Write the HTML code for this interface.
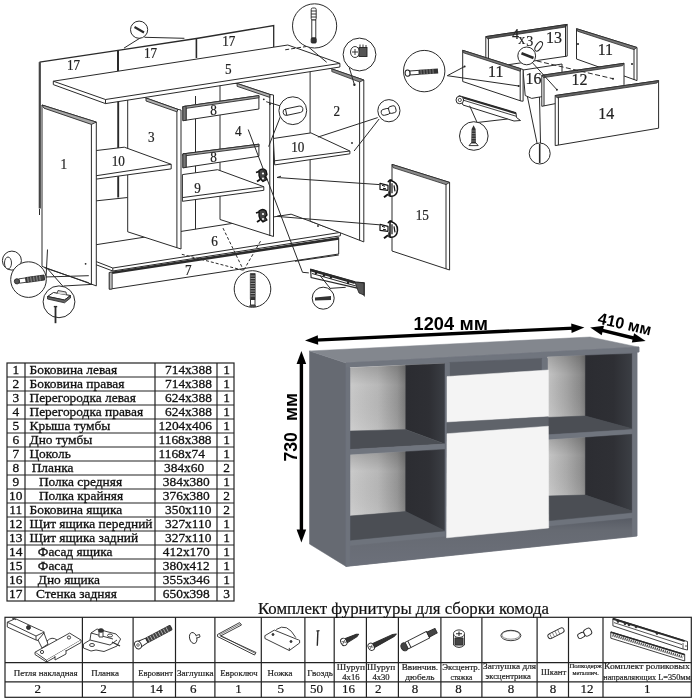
<!DOCTYPE html>
<html><head><meta charset="utf-8"><style>
html,body{margin:0;padding:0;background:#fff;width:694px;height:700px;overflow:hidden;}
svg{display:block;will-change:transform;}
</style></head><body>
<svg width="694" height="700" viewBox="0 0 694 700">
<rect width="694" height="700" fill="#fff"/>
<path d="M39.5,62.1 L118,50.3 L196.4,38.5 L273.7,25.5 L273.7,182 L39.5,207 Z" fill="#fff" stroke="none"/>
<path d="M39.5,62.1 L118.0,50.3 L196.4,38.5 L273.7,25.5 L273.7,47.0" fill="none" stroke="#2a2a2a" stroke-width="1.3"/>
<path d="M118.0,50.3 L118.0,71.0" fill="none" stroke="#2a2a2a" stroke-width="2"/>
<path d="M196.4,38.5 L196.4,58.0" fill="none" stroke="#2a2a2a" stroke-width="1.6"/>
<path d="M39.8,62.1 L39.8,208.5" fill="none" stroke="#444" stroke-width="2.2"/>
<path d="M118.2,101.0 L118.2,197.5" fill="none" stroke="#2a2a2a" stroke-width="1.9"/>
<path d="M195.5,96.0 L195.5,230.0" fill="none" stroke="#2a2a2a" stroke-width="1.0"/>
<path d="M95.7,200.9 L127.7,197.5" fill="none" stroke="#2a2a2a" stroke-width="1.0"/>
<path d="M95.5,244.8 L291.1,214.2 L340.4,232.4 L340.4,235.8 L112.8,271.0 L95.5,264.5 Z" fill="#fff" stroke="#2a2a2a" stroke-width="1.0"/>
<path d="M95.5,261.3 L112.8,268.0 L340.4,232.4" fill="none" stroke="#2a2a2a" stroke-width="1.0"/>
<path d="M112.8,268.0 L112.8,271.0" fill="none" stroke="#2a2a2a" stroke-width="1.0"/>
<path d="M109.3,272.5 L338.7,237.6 L338.7,254.0 L109.3,289.2 Z" fill="#fff" stroke="#2a2a2a" stroke-width="1.0"/>
<path d="M109.3,272.5 L112.2,272 L112.2,289 L109.3,289.2 Z" fill="#bbb" stroke="#2a2a2a" stroke-width="0.8"/>
<path d="M112.2,273.0 L338.7,238.6" fill="none" stroke="#2a2a2a" stroke-width="2.2"/>
<path d="M127.7,92.0 L146.0,98.0 L178.0,109.4 L181.0,110.0 L181.0,249.0 L127.7,231.8 Z" fill="#fff" stroke="#2a2a2a" stroke-width="1.0"/>
<path d="M176.9,109.4 L176.9,248.0" fill="none" stroke="#2a2a2a" stroke-width="1.0"/>
<path d="M146.0,98.0 L178.0,109.4 L176.9,111.8 L146.0,101.0 Z" fill="#b0b0b0" stroke="#2a2a2a" stroke-width="0.9"/>
<path d="M95.7,150.6 L124.3,147.2 L171.2,164.3 L171.2,168.9 L95.7,179.2 Z" fill="#fff" stroke="#2a2a2a" stroke-width="1.0"/>
<path d="M95.7,175.8 L171.2,164.3" fill="none" stroke="#2a2a2a" stroke-width="1.0"/>
<path d="M220.0,83.0 L237.1,83.5 L269.8,94.4 L273.5,95.0 L273.5,236.5 L220.0,219.5 Z" fill="#fff" stroke="#2a2a2a" stroke-width="1.0"/>
<path d="M269.8,94.4 L269.8,236.0" fill="none" stroke="#2a2a2a" stroke-width="1.0"/>
<path d="M237.1,83.5 L269.8,94.4 L269.8,97.4 L237.1,86.3 Z" fill="#b0b0b0" stroke="#2a2a2a" stroke-width="0.9"/>
<g transform="translate(262,175.5)" stroke="#111" stroke-width="1.3" fill="#444" stroke-linejoin="round"><path d="M-3,-5 Q1,-8 4,-5 L5,-1 L3,1 L5,4 L1,6 L-2,3 L-3,0 Z"/><path d="M-3,-4 L-6,-3" fill="none" stroke-width="1.8"/><path d="M-2,4 L-5,6" fill="none" stroke-width="1.8"/><circle cx="1" cy="-2" r="1.1" fill="#fff" stroke="none"/><circle cx="1" cy="3" r="1" fill="#fff" stroke="none"/></g>
<g transform="translate(262,216)" stroke="#111" stroke-width="1.3" fill="#444" stroke-linejoin="round"><path d="M-3,-5 Q1,-8 4,-5 L5,-1 L3,1 L5,4 L1,6 L-2,3 L-3,0 Z"/><path d="M-3,-4 L-6,-3" fill="none" stroke-width="1.8"/><path d="M-2,4 L-5,6" fill="none" stroke-width="1.8"/><circle cx="1" cy="-2" r="1.1" fill="#fff" stroke="none"/><circle cx="1" cy="3" r="1" fill="#fff" stroke="none"/></g>
<path d="M182.9,106.6 L258.9,95.6 L258.9,109.0 L182.9,120.7 Z" fill="#fff" stroke="#2a2a2a" stroke-width="1.0"/>
<path d="M186.1,106.2 L186.1,120.3" fill="none" stroke="#2a2a2a" stroke-width="1.0"/>
<path d="M182.9,106.6 L258.9,95.6 L258.9,97.8 L182.9,108.8 Z" fill="#a0a0a0" stroke="#2a2a2a" stroke-width="0.9"/>
<path d="M182.9,106.6 L186.1,106.2 L186.1,120.3 L182.9,120.7 Z" fill="#777" stroke="#2a2a2a" stroke-width="0.8"/>
<path d="M182.9,153.9 L258.9,144.2 L258.9,156.3 L182.9,167.8 Z" fill="#fff" stroke="#2a2a2a" stroke-width="1.0"/>
<path d="M186.1,153.5 L186.1,167.4" fill="none" stroke="#2a2a2a" stroke-width="1.0"/>
<path d="M182.9,153.9 L258.9,144.2 L258.9,146.4 L182.9,156.1 Z" fill="#a0a0a0" stroke="#2a2a2a" stroke-width="0.9"/>
<path d="M182.9,153.9 L186.1,153.5 L186.1,167.4 L182.9,167.8 Z" fill="#777" stroke="#2a2a2a" stroke-width="0.8"/>
<path d="M182.4,174.6 L217.6,169.7 L263.8,186.7 L263.8,190.3 L182.4,201.3 Z" fill="#fff" stroke="#2a2a2a" stroke-width="1.0"/>
<path d="M182.4,197.6 L263.8,186.7" fill="none" stroke="#2a2a2a" stroke-width="1.0"/>
<path d="M42.0,105.0 L96.3,122.1 L96.3,285.9 L42.0,266.4 Z" fill="#fff" stroke="#2a2a2a" stroke-width="1.0"/>
<path d="M91.4,122.0 L91.4,284.3" fill="none" stroke="#2a2a2a" stroke-width="1.0"/>
<path d="M42.0,105.0 L96.3,122.1 L91.4,124.4 L44.0,108.2 Z" fill="#a8a8a8" stroke="#2a2a2a" stroke-width="0.9"/>
<path d="M310.1,61.4 L363.8,80.0 L363.8,241.9 L310.1,221.1 Z" fill="#fff" stroke="#2a2a2a" stroke-width="1.0"/>
<path d="M359.6,78.6 L359.6,240.3" fill="none" stroke="#2a2a2a" stroke-width="1.0"/>
<path d="M331.8,68.9 L363.8,80.0 L359.6,82.0 L331.8,71.6 Z" fill="#8a8a8a" stroke="#2a2a2a" stroke-width="0.8"/>
<path d="M273.3,138.5 L310.9,132.9 L349.9,151.0 L349.9,153.8 L274.7,164.9 Z" fill="#fff" stroke="#2a2a2a" stroke-width="1.0"/>
<path d="M274.7,160.8 L349.9,151.0" fill="none" stroke="#2a2a2a" stroke-width="1.0"/>
<path d="M53.3,81.2 L287.8,45.0 L339.9,63.4 L339.9,67.0 L105.5,103.6 L53.3,84.6 Z" fill="#fff" stroke="#2a2a2a" stroke-width="1.0"/>
<path d="M53.3,81.2 L105.5,99.5 L339.9,63.4" fill="none" stroke="#2a2a2a" stroke-width="1.0"/>
<path d="M105.5,99.5 L105.5,103.6" fill="none" stroke="#2a2a2a" stroke-width="1.0"/>
<path d="M392.0,164.4 L449.6,182.4 L449.6,270.0 L392.0,251.0 Z" fill="#fff" stroke="#2a2a2a" stroke-width="1.0"/>
<path d="M446.0,181.5 L446.0,269.0" fill="none" stroke="#2a2a2a" stroke-width="1.0"/>
<path d="M392.0,164.4 L449.6,182.4 L446.0,184.6 L393.0,167.6 Z" fill="#8a8a8a" stroke="#2a2a2a" stroke-width="0.8"/>
<g transform="translate(389,188.3)" stroke="#111" stroke-width="1.2" fill="#fff" stroke-linejoin="round"><path d="M-9,-5 L-1,-3 L-1,2 L-9,1 Z"/><path d="M-7,-3 L-4,-2 M-6,0 L-3,0.5" stroke-width="1"/><path d="M1,-8 Q9,-6 8.5,1 Q8,8 2,8 L1,8 Z" fill="#fff" stroke-width="1.5"/><path d="M3,-5 L3,5 M5,-3 L6,3" fill="none" stroke-width="1.2"/><path d="M-1,-6 Q0,-9 3,-8" fill="none" stroke-width="1.5"/><path d="M0,3 L0,8" fill="none" stroke-width="1.5"/><path d="M-1,6 L-5,9" fill="none" stroke-width="2"/></g>
<g transform="translate(389,229.3)" stroke="#111" stroke-width="1.2" fill="#fff" stroke-linejoin="round"><path d="M-9,-5 L-1,-3 L-1,2 L-9,1 Z"/><path d="M-7,-3 L-4,-2 M-6,0 L-3,0.5" stroke-width="1"/><path d="M1,-8 Q9,-6 8.5,1 Q8,8 2,8 L1,8 Z" fill="#fff" stroke-width="1.5"/><path d="M3,-5 L3,5 M5,-3 L6,3" fill="none" stroke-width="1.2"/><path d="M-1,-6 Q0,-9 3,-8" fill="none" stroke-width="1.5"/><path d="M0,3 L0,8" fill="none" stroke-width="1.5"/><path d="M-1,6 L-5,9" fill="none" stroke-width="2"/></g>
<path d="M379.5,184.6 L277.0,177.5" fill="none" stroke="#2a2a2a" stroke-width="1.0"/>
<path d="M379.5,224.8 L277.0,216.4" fill="none" stroke="#2a2a2a" stroke-width="1.0"/>
<path d="M277.0,177.5 L281.0,176.2" fill="none" stroke="#2a2a2a" stroke-width="1.0"/>
<path d="M277.0,216.4 L281.0,215.1" fill="none" stroke="#2a2a2a" stroke-width="1.0"/>
<g font-family="Liberation Serif" fill="#222" stroke="#222" stroke-width="0.2">
<text transform="translate(73.5,69.7) scale(1,1.1)" font-size="13.2" text-anchor="middle" >17</text>
<text transform="translate(150.5,57.8) scale(1,1.1)" font-size="13.2" text-anchor="middle" >17</text>
<text transform="translate(228.8,45.8) scale(1,1.1)" font-size="13.2" text-anchor="middle" >17</text>
<text transform="translate(228.4,73.5) scale(1,1.1)" font-size="13.2" text-anchor="middle" >5</text>
<text transform="translate(63.7,168.7) scale(1,1.1)" font-size="13.2" text-anchor="middle" >1</text>
<text transform="translate(151.3,142.1) scale(1,1.1)" font-size="13.2" text-anchor="middle" >3</text>
<text transform="translate(118.3,165.9) scale(1,1.1)" font-size="13.2" text-anchor="middle" >10</text>
<text transform="translate(213.5,114.6) scale(1,1.1)" font-size="13.2" text-anchor="middle" >8</text>
<text transform="translate(213.5,161.9) scale(1,1.1)" font-size="13.2" text-anchor="middle" >8</text>
<text transform="translate(197.5,192.8) scale(1,1.1)" font-size="13.2" text-anchor="middle" >9</text>
<text transform="translate(238.3,136.2) scale(1,1.1)" font-size="13.2" text-anchor="middle" >4</text>
<text transform="translate(336.8,116.2) scale(1,1.1)" font-size="13.2" text-anchor="middle" >2</text>
<text transform="translate(297.8,151.9) scale(1,1.1)" font-size="13.2" text-anchor="middle" >10</text>
<text transform="translate(214.5,245.5) scale(1,1.1)" font-size="13.2" text-anchor="middle" >6</text>
<text transform="translate(188.2,274.9) scale(1,1.1)" font-size="13.2" text-anchor="middle" >7</text>
<text transform="translate(422.3,220.4) scale(1,1.1)" font-size="13.2" text-anchor="middle" >15</text>
</g>
<path d="M248.2,129.5 L302.5,272.3 L308.8,272.9" fill="none" stroke="#2a2a2a" stroke-width="1.0"/>
<path d="M223.0,228.1 L243.6,270.4" fill="none" stroke="#2a2a2a" stroke-width="1.0" stroke-dasharray="3,2"/>
<path d="M260.5,241.2 L243.6,270.4" fill="none" stroke="#2a2a2a" stroke-width="1.0" stroke-dasharray="3,2"/>
<path d="M181.8,254.3 L243.6,270.4" fill="none" stroke="#2a2a2a" stroke-width="1.0" stroke-dasharray="3,2"/>
<path d="M141.3,37.3 L124.0,48.1" fill="none" stroke="#2a2a2a" stroke-width="1.0"/>
<path d="M144.5,37.3 L184.4,38.3" fill="none" stroke="#2a2a2a" stroke-width="1.0"/>
<circle cx="139.1" cy="29.7" r="8.6" fill="#fff" stroke="#2a2a2a" stroke-width="1.0"/>
<path d="M134.5,27.0 L144.0,32.5" fill="none" stroke="#2a2a2a" stroke-width="2.2"/>
<path d="M285.2,49.8 L307.7,46.3" fill="none" stroke="#2a2a2a" stroke-width="1.0" stroke-dasharray="4,2"/>
<path d="M308.5,47.0 L326.7,62.3" fill="none" stroke="#2a2a2a" stroke-width="1.0"/>
<circle cx="314.6" cy="25.9" r="22.1" fill="#fff" stroke="#2a2a2a" stroke-width="1.0"/>
<g stroke="#222" stroke-width="0.9" fill="#fff"><rect x="311.2" y="8" width="5" height="12" rx="1.5"/><line x1="311.2" y1="11" x2="316.2" y2="11"/><line x1="311.2" y1="14" x2="316.2" y2="14"/><line x1="311.2" y1="17" x2="316.2" y2="17"/><rect x="311.8" y="20" width="4" height="18"/><rect x="311.2" y="38" width="5" height="5" rx="1" fill="#333"/></g>
<path d="M349.2,67.4 L354.4,84.7" fill="none" stroke="#2a2a2a" stroke-width="1.0"/>
<circle cx="354.4" cy="84.7" r="1.2" fill="#222"/>
<circle cx="359.5" cy="54.5" r="16.4" fill="#fff" stroke="#2a2a2a" stroke-width="1.0"/>
<g stroke="#222" stroke-width="0.9"><ellipse cx="355" cy="52" rx="4.5" ry="5.5" fill="#fff"/><path d="M352,52 L358,52 M355,49 L355,55" /><rect x="359" y="47.5" width="8" height="9" fill="#555"/><path d="M360,47.5 L360,44.5 M363,47.5 L363,44.5 M366,47.5 L366,45" /></g>
<path d="M280.5,106.0 L266.2,101.7" fill="none" stroke="#2a2a2a" stroke-width="1.0"/>
<path d="M281.0,115.0 L268.6,146.6" fill="none" stroke="#2a2a2a" stroke-width="1.0"/>
<circle cx="292.8" cy="110.7" r="13.9" fill="#fff" stroke="#2a2a2a" stroke-width="1.0"/>
<g transform="rotate(-12 292.8 110.7)" stroke="#222" stroke-width="0.9" fill="#fff"><rect x="283" y="107.5" width="20" height="6.5" rx="3"/><line x1="286" y1="107.5" x2="286" y2="114"/></g>
<path d="M377.7,117.6 L317.9,137.1" fill="none" stroke="#2a2a2a" stroke-width="1.0"/>
<path d="M379.1,119.0 L354.1,151.0" fill="none" stroke="#2a2a2a" stroke-width="1.0"/>
<circle cx="388.9" cy="110.7" r="11.1" fill="#fff" stroke="#2a2a2a" stroke-width="1.0"/>
<g transform="rotate(-15 388.9 110.7)" stroke="#222" stroke-width="0.9" fill="#fff"><rect x="381" y="108" width="9" height="6" rx="2.5"/><rect x="389" y="107" width="7" height="7" rx="2"/></g>
<circle cx="252.5" cy="289" r="18.3" fill="#fff" stroke="#2a2a2a" stroke-width="1.0"/>
<path d="M250.3,273.5 L255.2,273.5 L255.2,299.5 L250.3,299.5 Z" fill="#333" stroke="#222" stroke-width="0.6"/>
<path d="M250.5,276 L255,276 M250.5,278.5 L255,278.5 M250.5,281 L255,281 M250.5,283.5 L255,283.5 M250.5,286 L255,286 M250.5,288.5 L255,288.5 M250.5,291 L255,291 M250.5,293.5 L255,293.5 M250.5,296 L255,296" stroke="#bbb" stroke-width="0.7"/>
<path d="M250.5,299.5 L255,299.5 L255,305 L250.5,305 Z" fill="#fff" stroke="#222" stroke-width="0.9"/>
<path d="M249.5,306.0 L256.0,306.0" fill="none" stroke="#2a2a2a" stroke-width="1.6"/>
<path d="M310.6,269.4 L354.9,282.1 L364.2,282.7 L364.2,295.3 L358.4,288.4 L311.1,277.5 Z" fill="#fff" stroke="#2a2a2a" stroke-width="1.2"/>
<path d="M310.6,270.0 L354.9,282.7" fill="none" stroke="#2a2a2a" stroke-width="2.8"/>
<path d="M312.0,273.5 L356.0,286.0" fill="none" stroke="#2a2a2a" stroke-width="1.0"/>
<path d="M355,282 L364,283 L364,295 L359,293 L357,288 Z" fill="#555" stroke="#222" stroke-width="0.8"/>
<circle cx="316" cy="273" r="1.2" fill="#222"/><circle cx="324" cy="275.5" r="1.2" fill="#222"/><circle cx="331" cy="277.5" r="1.2" fill="#222"/><circle cx="348" cy="283" r="1.2" fill="#222"/>
<path d="M319.8,275.2 L330.2,288.4" fill="none" stroke="#2a2a2a" stroke-width="1.0"/>
<path d="M329.6,288.4 L345.7,287.3" fill="none" stroke="#2a2a2a" stroke-width="1.0"/>
<circle cx="323.2" cy="298.2" r="11" fill="#fff" stroke="#2a2a2a" stroke-width="1.0"/>
<path d="M315,297.5 L331,296 L331,300 L315,300.5 Z" fill="#333"/>
<path d="M295.0,261.3 L338.8,255.0" fill="none" stroke="#2a2a2a" stroke-width="1.0"/>
<path d="M44.4,267.7 L88.8,282.8" fill="none" stroke="#2a2a2a" stroke-width="1.0"/>
<path d="M44.4,277.0 L88.8,275.7" fill="none" stroke="#2a2a2a" stroke-width="1.0"/>
<path d="M46.0,267.0 L63.4,286.8" fill="none" stroke="#2a2a2a" stroke-width="1.0"/>
<path d="M47.5,249.5 L46.0,278.0" fill="none" stroke="#2a2a2a" stroke-width="1.0"/>
<path d="M63.4,286.0 L91.9,284.4" fill="none" stroke="#2a2a2a" stroke-width="1.0"/>
<circle cx="11.9" cy="260.6" r="9.5" fill="#fff" stroke="#2a2a2a" stroke-width="1.0"/>
<ellipse cx="8" cy="263" rx="3.5" ry="6" fill="#fff" stroke="#222" stroke-width="0.9"/>
<circle cx="28.5" cy="279.6" r="17.8" fill="#fff" stroke="#2a2a2a" stroke-width="1.0"/>
<g transform="rotate(-8 30 279.5)" stroke="#222" stroke-width="0.8"><rect x="19" y="277.3" width="7" height="4.4" fill="#fff"/><rect x="26" y="277" width="18.5" height="5" fill="#444"/><path d="M28,277 L28,282 M31,277 L31,282 M34,277 L34,282 M37,277 L37,282 M40,277 L40,282" stroke="#bbb" stroke-width="0.6"/><circle cx="16.8" cy="279.5" r="2.6" fill="#555"/></g>
<circle cx="59" cy="301.8" r="15.9" fill="#fff" stroke="#2a2a2a" stroke-width="1.0"/>
<path d="M47.5,296.5 L53.5,292.5 L70.5,295.5 L64.5,300 Z" fill="#fff" stroke="#222" stroke-width="1"/>
<path d="M47.5,296.5 L47.5,299 L64.5,302.8 L70.5,298 L70.5,295.5 L64.5,300 Z" fill="#666" stroke="#222" stroke-width="0.8"/>
<path d="M57,293.5 L58,290.5 L66,292 L66.5,294.8" fill="#ddd" stroke="#222" stroke-width="0.8"/>
<path d="M55.5,306.6 L55.5,323.2" fill="none" stroke="#2a2a2a" stroke-width="1.8"/>
<path d="M53.8,306.6 L57.2,306.6" fill="none" stroke="#2a2a2a" stroke-width="1.4"/>
<path d="M39.5,209.0 L39.5,215.0" fill="none" stroke="#2a2a2a" stroke-width="1.0"/>
<circle cx="85.6" cy="263.8" r="0.9" fill="#222"/>
<circle cx="352" cy="143" r="0.9" fill="#222"/>
<circle cx="318" cy="226" r="0.9" fill="#222"/>
<circle cx="263.8" cy="99.3" r="0.9" fill="#222"/>
<circle cx="270" cy="104" r="0.9" fill="#222"/>
<path d="M485.8,36.6 L567.2,24.4 L567.2,56.1 L485.8,68.0 Z" fill="#fff" stroke="#2a2a2a" stroke-width="1.0"/>
<path d="M488.4,36.2 L488.4,60.0" fill="none" stroke="#2a2a2a" stroke-width="1.0"/>
<path d="M485.8,36.6 L567.2,24.4 L565.5,27.0 L487.5,38.8 Z" fill="#555" stroke="#2a2a2a" stroke-width="0.8"/>
<path d="M565.5,25.0 L565.5,56.5" fill="none" stroke="#2a2a2a" stroke-width="1.0"/>
<path d="M576.5,28.7 L637.0,47.5 L637.0,80.6 L576.5,59.0 Z" fill="#fff" stroke="#2a2a2a" stroke-width="1.0"/>
<path d="M634.0,46.8 L634.0,80.0" fill="none" stroke="#2a2a2a" stroke-width="1.0"/>
<path d="M576.5,28.7 L637.0,47.5 L634.0,49.6 L577.5,31.2 Z" fill="#777" stroke="#2a2a2a" stroke-width="0.8"/>
<circle cx="578" cy="44" r="1" fill="#222"/><circle cx="632" cy="64" r="1" fill="#222"/>
<path d="M523.0,70.0 L562.0,64.0 L562.0,94.0 L540.3,96.9 L531.7,98.4 L525.2,95.5 Z" fill="#fff" stroke="#2a2a2a" stroke-width="1.0"/>
<path d="M541.8,75.3 L624.0,63.3 L624.0,90.0 L541.8,106.3 Z" fill="#fff" stroke="#2a2a2a" stroke-width="1.0"/>
<path d="M544.0,75.5 L544.0,106.0" fill="none" stroke="#2a2a2a" stroke-width="1.0"/>
<path d="M541.8,75.3 L624.0,63.3 L622.5,65.7 L543.5,77.6 Z" fill="#666" stroke="#2a2a2a" stroke-width="0.8"/>
<path d="M462.7,50.3 L521.0,68.8 L523.1,69.5 L523.1,101.2 L521.0,101.0 L462.7,81.5 Z" fill="#fff" stroke="#2a2a2a" stroke-width="1.0"/>
<path d="M520.2,69.0 L520.2,101.0" fill="none" stroke="#2a2a2a" stroke-width="1.0"/>
<path d="M462.7,50.3 L521.0,68.8 L520.2,71.2 L463.5,52.8 Z" fill="#777" stroke="#2a2a2a" stroke-width="0.8"/>
<path d="M555.2,95.5 L658.6,80.6 L658.6,128.2 L555.2,145.6 Z" fill="#fff" stroke="#2a2a2a" stroke-width="1.0"/>
<path d="M558.4,95.2 L558.4,145.0" fill="none" stroke="#2a2a2a" stroke-width="1.0"/>
<path d="M555.2,95.5 L658.6,80.6 L657.0,83.0 L557.0,97.8 Z" fill="#666" stroke="#2a2a2a" stroke-width="0.8"/>
<path d="M536.7,60.9 L613.0,78.7" fill="none" stroke="#2a2a2a" stroke-width="1.0" stroke-dasharray="5,2.5"/>
<circle cx="613" cy="78.7" r="1" fill="#222"/>
<path d="M530.0,60.0 L556.9,89.7" fill="none" stroke="#2a2a2a" stroke-width="1.0"/>
<circle cx="556.9" cy="89.7" r="1" fill="#222"/>
<circle cx="526.7" cy="55.9" r="8.9" fill="#fff" stroke="#2a2a2a" stroke-width="1.0"/>
<path d="M521.5,53.2 L533.5,58.0" fill="none" stroke="#2a2a2a" stroke-width="2.6"/>
<path d="M447.3,75.7 L464.6,66.5" fill="none" stroke="#2a2a2a" stroke-width="1.0"/>
<path d="M447.3,75.7 L518.7,86.0" fill="none" stroke="#2a2a2a" stroke-width="1.0"/>
<circle cx="464.6" cy="66.5" r="1" fill="#222"/><circle cx="518.7" cy="86" r="1" fill="#222"/>
<circle cx="424.2" cy="71.1" r="20.7" fill="#fff" stroke="#2a2a2a" stroke-width="1.0"/>
<g transform="rotate(-4 424 71)"><ellipse cx="407.5" cy="72" rx="2.5" ry="3.2" fill="#fff" stroke="#222" stroke-width="1"/><rect x="410" y="70" width="9" height="4" fill="#fff" stroke="#222" stroke-width="0.9"/><rect x="419" y="69.5" width="19" height="5" fill="#333"/><path d="M421,69.5 L421,74.5 M424,69.5 L424,74.5 M427,69.5 L427,74.5 M430,69.5 L430,74.5 M433,69.5 L433,74.5" stroke="#aaa" stroke-width="0.6"/></g>
<path d="M458.5,96.0 L516.0,113.0 L516.5,117.5 L520.5,120.5 L514.0,121.0 L463.0,105.0 Z" fill="#fff" stroke="#2a2a2a" stroke-width="1.0"/>
<path d="M459.0,96.2 L516.0,113.2" fill="none" stroke="#2a2a2a" stroke-width="2.2"/>
<path d="M462.0,99.8 L516.0,116.2" fill="none" stroke="#2a2a2a" stroke-width="0.9"/>
<circle cx="459.8" cy="100" r="3.8" fill="#fff" stroke="#2a2a2a" stroke-width="1.0"/>
<circle cx="459.8" cy="100" r="1.6" fill="#fff" stroke="#2a2a2a" stroke-width="0.8"/>
<path d="M469.6,105.7 L477.1,122.5" fill="none" stroke="#2a2a2a" stroke-width="1.0"/>
<path d="M477.1,122.5 L507.6,119.0" fill="none" stroke="#2a2a2a" stroke-width="1.0"/>
<circle cx="473.8" cy="136" r="14.3" fill="#fff" stroke="#2a2a2a" stroke-width="1.0"/>
<path d="M471.2,143 L476,143 L475.6,129 L473.6,125.3 L471.6,129 Z" fill="#333"/>
<path d="M471.5,131 L475.7,131 M471.4,133.5 L475.8,133.5 M471.3,136 L475.8,136 M471.3,138.5 L475.9,138.5 M471.2,141 L476,141" stroke="#aaa" stroke-width="0.6"/>
<path d="M469,145.6 L478.2,145.6 L476,143 L471.2,143 Z" fill="#fff" stroke="#222" stroke-width="0.9"/>
<path d="M537.0,143.0 L527.5,97.0" fill="none" stroke="#2a2a2a" stroke-width="1.0"/>
<path d="M540.5,143.0 L539.5,97.0" fill="none" stroke="#2a2a2a" stroke-width="1.0"/>
<circle cx="539.7" cy="153.5" r="10.5" fill="#fff" stroke="#2a2a2a" stroke-width="1.0"/>
<path d="M539.7,144.0 L539.7,163.0" fill="none" stroke="#2a2a2a" stroke-width="1.6"/>
<g font-family="Liberation Serif" fill="#222" stroke="#222" stroke-width="0.2">
<text transform="translate(553.9,43.0) scale(1,1.1)" font-size="16" text-anchor="middle" >13</text>
<text transform="translate(605.4,55.300000000000004) scale(1,1.1)" font-size="16" text-anchor="middle" >11</text>
<text transform="translate(495.7,77.2) scale(1,1.1)" font-size="16" text-anchor="middle" >11</text>
<text transform="translate(533.5,83.9) scale(1,1.1)" font-size="16" text-anchor="middle" >16</text>
<text transform="translate(579.6,85.3) scale(1,1.1)" font-size="16" text-anchor="middle" >12</text>
<text transform="translate(606.3,118.8) scale(1,1.1)" font-size="16" text-anchor="middle" >14</text>
<text font-size="14"><tspan x="512" y="38.7">4</tspan><tspan x="518.3" y="43.8">x</tspan><tspan x="526.2" y="46.4">3</tspan></text>
<ellipse cx="538.7" cy="46.4" rx="2.6" ry="5.4" transform="rotate(35 538.7 46.4)" fill="none" stroke="#222" stroke-width="1"/>
</g>
<polygon points="309.5,351 346,363 346,566.4 309.5,544" fill="#666a72" stroke="#666a72" stroke-width="0.5" stroke-linejoin="round" />
<polygon points="309.5,351 590,337 639,347.2 346,363" fill="#83878e" stroke="#83878e" stroke-width="0.5" stroke-linejoin="round" />
<polygon points="346,363 639,347.2 639,352 637,352 637,536 346,566.4" fill="#6e737c" stroke="#6e737c" stroke-width="0.5" stroke-linejoin="round" />
<polygon points="346,363 639,347.2 639,352 346,368" fill="#70757e" stroke="#70757e" stroke-width="0.5" stroke-linejoin="round" />
<polygon points="350,367.8 445,363.5 445,444 350,449.5" fill="#dedede" stroke="#dedede" stroke-width="0.5" stroke-linejoin="round" />
<defs><linearGradient id="bw1" x1="0" x2="1" y1="0" y2="0"><stop offset="0" stop-color="#cacaca"/><stop offset="0.5" stop-color="#b8b8b8"/><stop offset="0.85" stop-color="#969696"/><stop offset="1" stop-color="#787878"/></linearGradient><linearGradient id="bw2" x1="0" x2="1" y1="0" y2="0"><stop offset="0" stop-color="#cacaca"/><stop offset="0.5" stop-color="#b8b8b8"/><stop offset="0.85" stop-color="#969696"/><stop offset="1" stop-color="#787878"/></linearGradient><linearGradient id="bw3" x1="0" x2="1" y1="0" y2="0"><stop offset="0" stop-color="#c4c4c4"/><stop offset="0.5" stop-color="#a6a6a6"/><stop offset="0.85" stop-color="#8c8c8c"/><stop offset="1" stop-color="#767676"/></linearGradient><linearGradient id="bw4" x1="0" x2="1" y1="0" y2="0"><stop offset="0" stop-color="#c6c6c6"/><stop offset="0.5" stop-color="#acacac"/><stop offset="0.85" stop-color="#949494"/><stop offset="1" stop-color="#828282"/></linearGradient><linearGradient id="vsh" x1="0" x2="0" y1="0" y2="1"><stop offset="0" stop-color="#000" stop-opacity="0.16"/><stop offset="0.3" stop-color="#000" stop-opacity="0"/><stop offset="1" stop-color="#fff" stop-opacity="0.09"/></linearGradient><linearGradient id="dk" x1="0" x2="1" y1="0" y2="0"><stop offset="0" stop-color="#2b2c31"/><stop offset="0.6" stop-color="#2e2f34"/><stop offset="1" stop-color="#3b3e44"/></linearGradient><linearGradient id="dk2" x1="0" x2="1" y1="0" y2="0"><stop offset="0" stop-color="#2c2d32"/><stop offset="0.6" stop-color="#2f3035"/><stop offset="1" stop-color="#3c3f45"/></linearGradient><linearGradient id="pl" x1="0" x2="0" y1="0" y2="1"><stop offset="0" stop-color="#585c65"/><stop offset="0.25" stop-color="#666a72"/><stop offset="1" stop-color="#6c707a"/></linearGradient></defs>
<polygon points="350,367.8 405.7,365.3 405.7,429.5 350,431" fill="url(#bw1)" stroke="url(#bw1)" stroke-width="0.5" stroke-linejoin="round" />
<polygon points="350,367.8 405.7,365.3 405.7,429.5 350,431" fill="url(#vsh)"/>
<polygon points="405.7,365.3 445,363.5 445,444 405.7,429.5" fill="url(#dk)" stroke="url(#dk)" stroke-width="0.5" stroke-linejoin="round" />
<polygon points="350,431 405.7,429.5 445,444 350,449.5" fill="#4b4e54" stroke="#4b4e54" stroke-width="0.5" stroke-linejoin="round" />
<polygon points="350,449.5 445,444 445,449.4 350,455" fill="#70757e" stroke="#70757e" stroke-width="0.5" stroke-linejoin="round" />
<polygon points="350,455 405.7,451.8 405.7,511.6 350,516" fill="url(#bw2)" stroke="url(#bw2)" stroke-width="0.5" stroke-linejoin="round" />
<polygon points="350,455 405.7,451.8 405.7,511.6 350,516" fill="url(#vsh)"/>
<polygon points="405.7,451.8 445,449.4 445,530.8900000000001 405.7,511.6" fill="url(#dk2)" stroke="url(#dk2)" stroke-width="0.5" stroke-linejoin="round" />
<polygon points="350,516 405.7,511.6 445,530.8900000000001 350,540.2" fill="#4b4e54" stroke="#4b4e54" stroke-width="0.5" stroke-linejoin="round" />
<polygon points="547.5,357 585.4,355.5 585.4,416 547.5,417.4" fill="url(#bw3)" stroke="url(#bw3)" stroke-width="0.5" stroke-linejoin="round" />
<polygon points="547.5,357 585.4,355.5 585.4,416 547.5,417.4" fill="url(#vsh)"/>
<polygon points="585.4,355.5 632.3,353.8 632.3,428.7 585.4,416" fill="url(#dk)" stroke="url(#dk)" stroke-width="0.5" stroke-linejoin="round" />
<polygon points="547.5,417.4 585.4,416 632.3,428.7 632.3,429.5 547.5,434.8" fill="#4b4e54" stroke="#4b4e54" stroke-width="0.5" stroke-linejoin="round" />
<polygon points="547.5,434.8 632.3,429.5 632.3,434.3 547.5,440" fill="#70757e" stroke="#70757e" stroke-width="0.5" stroke-linejoin="round" />
<polygon points="547.5,440 585.4,437.6 585.4,495 547.5,496" fill="url(#bw4)" stroke="url(#bw4)" stroke-width="0.5" stroke-linejoin="round" />
<polygon points="547.5,440 585.4,437.6 585.4,495 547.5,496" fill="url(#vsh)"/>
<polygon points="585.4,437.6 632.3,434.3 632.3,511 585.4,495" fill="url(#dk2)" stroke="url(#dk2)" stroke-width="0.5" stroke-linejoin="round" />
<polygon points="547.5,496 585.4,495 632.3,511 632.3,512.5346000000001 547.5,520.845" fill="#4b4e54" stroke="#4b4e54" stroke-width="0.5" stroke-linejoin="round" />
<polygon points="350,546.0 632.3,518.3346 632.3,536.6247999999999 350,565.9839999999999" fill="url(#pl)" stroke="url(#pl)" stroke-width="0.5" stroke-linejoin="round" />
<polygon points="346,368 350,367.8 350,565.9839999999999 346,566.4" fill="#6e737c" stroke="#6e737c" stroke-width="0.5" stroke-linejoin="round" />
<polygon points="632.3,353.8 637,352 637,536 632.3,536.6247999999999" fill="#6e737c" stroke="#6e737c" stroke-width="0.5" stroke-linejoin="round" />
<polygon points="449.7,362.5 542,358.5 542,372 449.7,377" fill="#5a5e66" stroke="#5a5e66" stroke-width="0.5" stroke-linejoin="round" />
<polygon points="449.7,376 542,371 542,420 449.7,425" fill="#50545b" stroke="#50545b" stroke-width="0.5" stroke-linejoin="round" />
<polygon points="445,363.5 449.7,362.8 449.7,536.2294 445,536.69" fill="#6e737c" stroke="#6e737c" stroke-width="0.5" stroke-linejoin="round" />
<polygon points="542,358.8 547.5,358.5 547.5,526.645 542,527.184" fill="#6e737c" stroke="#6e737c" stroke-width="0.5" stroke-linejoin="round" />
<polygon points="447,376.5 548.4,370 548.4,416.8 447,422.4" fill="#f4f4f4" stroke="#f4f4f4" stroke-width="0.5" stroke-linejoin="round" />
<polygon points="447,422.4 548.4,416.8 548.4,426.2 447,433.7" fill="#5f636a" stroke="#5f636a" stroke-width="0.5" stroke-linejoin="round" />
<polygon points="447,433.7 548.4,426.2 548.7,528 446.6,537.8" fill="#f4f4f4" stroke="#f4f4f4" stroke-width="0.5" stroke-linejoin="round" />
<line x1="315.4" y1="340.1" x2="574.0" y2="328.1" stroke="#000" stroke-width="3.4"/>
<polygon points="305.0,340.6 318.2,344.8 317.8,335.2" fill="#000"/>
<polygon points="584.4,327.6 571.6,333.0 571.2,323.4" fill="#000"/>
<line x1="600.3" y1="329.9" x2="635.5" y2="338.5" stroke="#000" stroke-width="3.4"/>
<polygon points="590.2,327.4 601.7,335.2 604.0,325.8" fill="#000"/>
<polygon points="645.6,341.0 631.8,342.6 634.1,333.2" fill="#000"/>
<line x1="301.4" y1="361.4" x2="301.4" y2="532.2" stroke="#000" stroke-width="3.4"/>
<polygon points="301.4,351.0 296.6,364.0 306.2,364.0" fill="#000"/>
<polygon points="301.4,542.6 296.6,529.6 306.2,529.6" fill="#000"/>
<g font-family="Liberation Sans" font-weight="bold" fill="#000">
<text x="413.6" y="329.9" font-size="18.2">1204</text>
<text x="459.5" y="329.9" font-size="17.6" textLength="28.6" lengthAdjust="spacingAndGlyphs">мм</text>
<text transform="translate(597,323.3) rotate(12.8)" font-size="16"><tspan>410</tspan><tspan dx="4">мм</tspan></text>
<text transform="translate(297.3,461.6) rotate(-90)" font-size="18.6" textLength="29.5" lengthAdjust="spacingAndGlyphs">730</text>
<text transform="translate(297.3,421) rotate(-90)" font-size="18.6" textLength="28" lengthAdjust="spacingAndGlyphs">мм</text>
</g>
<g stroke="#222" stroke-width="1.2" fill="none">
<rect x="7" y="363" width="227" height="238"/>
<line x1="25" y1="363" x2="25" y2="601"/>
<line x1="155" y1="363" x2="155" y2="601"/>
<line x1="217" y1="363" x2="217" y2="601"/>
<line x1="7" y1="377" x2="234" y2="377"/>
<line x1="7" y1="391" x2="234" y2="391"/>
<line x1="7" y1="405" x2="234" y2="405"/>
<line x1="7" y1="419" x2="234" y2="419"/>
<line x1="7" y1="433" x2="234" y2="433"/>
<line x1="7" y1="447" x2="234" y2="447"/>
<line x1="7" y1="461" x2="234" y2="461"/>
<line x1="7" y1="475" x2="234" y2="475"/>
<line x1="7" y1="489" x2="234" y2="489"/>
<line x1="7" y1="503" x2="234" y2="503"/>
<line x1="7" y1="517" x2="234" y2="517"/>
<line x1="7" y1="531" x2="234" y2="531"/>
<line x1="7" y1="545" x2="234" y2="545"/>
<line x1="7" y1="559" x2="234" y2="559"/>
<line x1="7" y1="573" x2="234" y2="573"/>
<line x1="7" y1="587" x2="234" y2="587"/>
</g>
<g font-family="Liberation Serif" font-size="13.4" fill="#111" stroke="#111" stroke-width="0.3">
<text x="15.8" y="373.9" text-anchor="middle">1</text>
<text x="29.5" y="373.9">Боковина левая</text>
<text x="165" y="373.9">714x388</text>
<text x="226.5" y="373.9" text-anchor="middle">1</text>
<text x="15.8" y="387.9" text-anchor="middle">2</text>
<text x="29.5" y="387.9">Боковина правая</text>
<text x="165" y="387.9">714x388</text>
<text x="226.5" y="387.9" text-anchor="middle">1</text>
<text x="15.8" y="401.9" text-anchor="middle">3</text>
<text x="29.5" y="401.9">Перегородка левая</text>
<text x="165" y="401.9">624x388</text>
<text x="226.5" y="401.9" text-anchor="middle">1</text>
<text x="15.8" y="415.9" text-anchor="middle">4</text>
<text x="29.5" y="415.9">Перегородка правая</text>
<text x="165" y="415.9">624x388</text>
<text x="226.5" y="415.9" text-anchor="middle">1</text>
<text x="15.8" y="429.9" text-anchor="middle">5</text>
<text x="29.5" y="429.9">Крыша тумбы</text>
<text x="158.5" y="429.9">1204x406</text>
<text x="226.5" y="429.9" text-anchor="middle">1</text>
<text x="15.8" y="443.9" text-anchor="middle">6</text>
<text x="29.5" y="443.9">Дно тумбы</text>
<text x="158.5" y="443.9">1168x388</text>
<text x="226.5" y="443.9" text-anchor="middle">1</text>
<text x="15.8" y="457.9" text-anchor="middle">7</text>
<text x="29.5" y="457.9">Цоколь</text>
<text x="158.5" y="457.9">1168x74</text>
<text x="226.5" y="457.9" text-anchor="middle">1</text>
<text x="15.8" y="471.9" text-anchor="middle">8</text>
<text x="31.7" y="471.9">Планка</text>
<text x="164" y="471.9">384x60</text>
<text x="226.5" y="471.9" text-anchor="middle">2</text>
<text x="15.8" y="485.9" text-anchor="middle">9</text>
<text x="38.9" y="485.9">Полка средняя</text>
<text x="162.8" y="485.9">384x380</text>
<text x="226.5" y="485.9" text-anchor="middle">1</text>
<text x="15.8" y="499.9" text-anchor="middle">10</text>
<text x="38.9" y="499.9">Полка крайняя</text>
<text x="162.8" y="499.9">376x380</text>
<text x="226.5" y="499.9" text-anchor="middle">2</text>
<text x="15.8" y="513.9" text-anchor="middle">11</text>
<text x="29.5" y="513.9">Боковина ящика</text>
<text x="165" y="513.9">350x110</text>
<text x="226.5" y="513.9" text-anchor="middle">2</text>
<text x="15.8" y="527.9" text-anchor="middle">12</text>
<text x="29.5" y="527.9">Щит ящика передний</text>
<text x="165" y="527.9">327x110</text>
<text x="226.5" y="527.9" text-anchor="middle">1</text>
<text x="15.8" y="541.9" text-anchor="middle">13</text>
<text x="29.5" y="541.9">Щит ящика задний</text>
<text x="165" y="541.9">327x110</text>
<text x="226.5" y="541.9" text-anchor="middle">1</text>
<text x="15.8" y="555.9" text-anchor="middle">14</text>
<text x="37.8" y="555.9">Фасад ящика</text>
<text x="162.8" y="555.9">412x170</text>
<text x="226.5" y="555.9" text-anchor="middle">1</text>
<text x="15.8" y="569.9" text-anchor="middle">15</text>
<text x="37.8" y="569.9">Фасад</text>
<text x="162.8" y="569.9">380x412</text>
<text x="226.5" y="569.9" text-anchor="middle">1</text>
<text x="15.8" y="583.9" text-anchor="middle">16</text>
<text x="37.8" y="583.9">Дно ящика</text>
<text x="162.8" y="583.9">355x346</text>
<text x="226.5" y="583.9" text-anchor="middle">1</text>
<text x="15.8" y="597.9" text-anchor="middle">17</text>
<text x="36" y="597.9">Стенка задняя</text>
<text x="162.8" y="597.9">650x398</text>
<text x="226.5" y="597.9" text-anchor="middle">3</text>
</g>
<g stroke="#222" stroke-width="1.2" fill="none">
<rect x="5" y="617.3" width="686.3" height="80.0"/>
<line x1="82.4" y1="617.3" x2="82.4" y2="697.3"/>
<line x1="133.1" y1="617.3" x2="133.1" y2="697.3"/>
<line x1="175.5" y1="617.3" x2="175.5" y2="697.3"/>
<line x1="214.9" y1="617.3" x2="214.9" y2="697.3"/>
<line x1="261.3" y1="617.3" x2="261.3" y2="697.3"/>
<line x1="304.9" y1="617.3" x2="304.9" y2="697.3"/>
<line x1="334.2" y1="617.3" x2="334.2" y2="697.3"/>
<line x1="366.4" y1="617.3" x2="366.4" y2="697.3"/>
<line x1="398.4" y1="617.3" x2="398.4" y2="697.3"/>
<line x1="440.9" y1="617.3" x2="440.9" y2="697.3"/>
<line x1="481.9" y1="617.3" x2="481.9" y2="697.3"/>
<line x1="537.1" y1="617.3" x2="537.1" y2="697.3"/>
<line x1="568.5" y1="617.3" x2="568.5" y2="697.3"/>
<line x1="603" y1="617.3" x2="603" y2="697.3"/>
<line x1="5" y1="662.7" x2="691.3" y2="662.7"/>
<line x1="5" y1="681.9" x2="691.3" y2="681.9"/>
</g>
<g font-family="Liberation Serif" fill="#222" stroke="#222" stroke-width="0.2">
<text x="13.7" y="675.7" font-size="9" textLength="64" lengthAdjust="spacingAndGlyphs">Петля накладная</text>
<text x="91.2" y="675.7" font-size="9" textLength="27.8" lengthAdjust="spacingAndGlyphs">Планка</text>
<text x="138.3" y="675.7" font-size="9" textLength="34.6" lengthAdjust="spacingAndGlyphs">Евровинт</text>
<text x="176.9" y="675.7" font-size="9" textLength="36.7" lengthAdjust="spacingAndGlyphs">Заглушка</text>
<text x="220.2" y="675.7" font-size="9" textLength="37.5" lengthAdjust="spacingAndGlyphs">Евроключ</text>
<text x="267.5" y="675.7" font-size="9" textLength="25" lengthAdjust="spacingAndGlyphs">Ножка</text>
<text x="307.2" y="675.7" font-size="9" textLength="25.7" lengthAdjust="spacingAndGlyphs">Гвоздь</text>
<text x="336.8" y="670" font-size="9" textLength="28.2" lengthAdjust="spacingAndGlyphs">Шуруп</text>
<text x="342.3" y="679.8" font-size="9" textLength="17.3" lengthAdjust="spacingAndGlyphs">4х16</text>
<text x="367" y="670" font-size="9" textLength="28.2" lengthAdjust="spacingAndGlyphs">Шуруп</text>
<text x="372.4" y="679.8" font-size="9" textLength="17.3" lengthAdjust="spacingAndGlyphs">4х30</text>
<text x="401.7" y="670" font-size="9" textLength="36.4" lengthAdjust="spacingAndGlyphs">Ввинчив.</text>
<text x="405.3" y="679.8" font-size="9" textLength="29.3" lengthAdjust="spacingAndGlyphs">дюбель</text>
<text x="442.2" y="670" font-size="9" textLength="37.8" lengthAdjust="spacingAndGlyphs">Эксцентр.</text>
<text x="450.4" y="679.8" font-size="9" textLength="21.9" lengthAdjust="spacingAndGlyphs">стяжка</text>
<text x="483.1" y="669" font-size="9" textLength="53" lengthAdjust="spacingAndGlyphs">Заглушка для</text>
<text x="485.6" y="679.4" font-size="9" textLength="45.3" lengthAdjust="spacingAndGlyphs">эксцентрика</text>
<text x="541.1" y="675.4" font-size="9" textLength="25.2" lengthAdjust="spacingAndGlyphs">Шкант</text>
<text x="569.4" y="667.7" font-size="6.5" textLength="32.4" lengthAdjust="spacingAndGlyphs">Полкодерж</text>
<text x="572.5" y="675.4" font-size="6.5" textLength="26.2" lengthAdjust="spacingAndGlyphs">металлич.</text>
<text x="604" y="669.3" font-size="9" textLength="85.7" lengthAdjust="spacingAndGlyphs">Комплект роликовых</text>
<text x="603.3" y="679.8" font-size="9" textLength="87.5" lengthAdjust="spacingAndGlyphs">направляющих L=350мм</text>
<text x="37.8" y="693.3" font-size="13" text-anchor="middle" fill="#111">2</text>
<text x="103.4" y="693.3" font-size="13" text-anchor="middle" fill="#111">2</text>
<text x="156.3" y="693.3" font-size="13" text-anchor="middle" fill="#111">14</text>
<text x="193.3" y="693.3" font-size="13" text-anchor="middle" fill="#111">6</text>
<text x="238.6" y="693.3" font-size="13" text-anchor="middle" fill="#111">1</text>
<text x="280.7" y="693.3" font-size="13" text-anchor="middle" fill="#111">5</text>
<text x="316.5" y="693.3" font-size="13" text-anchor="middle" fill="#111">50</text>
<text x="348.4" y="693.3" font-size="13" text-anchor="middle" fill="#111">16</text>
<text x="378.2" y="693.3" font-size="13" text-anchor="middle" fill="#111">2</text>
<text x="415" y="693.3" font-size="13" text-anchor="middle" fill="#111">8</text>
<text x="458.5" y="693.3" font-size="13" text-anchor="middle" fill="#111">8</text>
<text x="510.9" y="693.3" font-size="13" text-anchor="middle" fill="#111">8</text>
<text x="552.9" y="693.3" font-size="13" text-anchor="middle" fill="#111">8</text>
<text x="587" y="693.3" font-size="13" text-anchor="middle" fill="#111">12</text>
<text x="647.3" y="693.3" font-size="13" text-anchor="middle" fill="#111">1</text>
</g>
<text x="258" y="614" font-family="Liberation Serif" font-size="16.8" fill="#111" stroke="#111" stroke-width="0.2">Комплект фурнитуры для сборки комода</text>
<g stroke="#2a2a2a" stroke-width="0.9" fill="#fff" stroke-linejoin="round" ><path d="M7.3,622.2 L15.4,618.7 L44.2,632 L40,641 L36,640 L7.3,627 Z"/><path d="M7.3,622.2 L36,636 L44.2,632"/><path d="M36,636 L36,640"/><circle cx="28.5" cy="627.5" r="2" fill="#333"/><path d="M12,619 Q14,617 16,620" fill="none"/><path d="M47,641 Q52,636 57,640 L57,648 L47,650 Z"/><path d="M35,652.2 L69.6,633.1 L81.1,640.1 L46.5,660.2 Z"/><path d="M46.5,660.2 L46.5,662 L81.1,642.5 L81.1,640.1"/><path d="M35,652.2 L35,654.5 L46.5,662"/><circle cx="42" cy="652" r="1.6"/><circle cx="69" cy="637.5" r="1.6"/><path d="M38,640 L44,633 L48,644 L42,648 Z"/><path d="M55,656 L55,660 L66,654 L66,650"/></g>
<g stroke="#2a2a2a" stroke-width="0.9" fill="#fff" stroke-linejoin="round" ><path d="M83.4,644 L90,640 L91,633 L97,629 L116,634 L120.6,639 L117,646 L110,649 L104,651.5 L96,650 L91,651 L83.4,648 Z"/><path d="M90,640 L110,645 L117,640"/><path d="M91,633 L113,639"/><ellipse cx="92" cy="645" rx="2.5" ry="1.5"/><ellipse cx="110" cy="635.5" rx="2.5" ry="1.5"/><path d="M99,631 L103,631 L103,637 L99,637 Z" fill="#fff"/><ellipse cx="101" cy="630.5" rx="2.6" ry="1.8" fill="#333"/><path d="M112,642 L120,646" stroke-width="1.3"/></g>
<g stroke="#2a2a2a" stroke-width="0.9" fill="#fff" stroke-linejoin="round" ><g transform="rotate(-28 138 645)"><path d="M140,641.8 L148,642.6 L148,647.4 L140,648.2 Z"/><rect x="148" y="642.5" width="27.5" height="5" rx="1" fill="#444"/><path d="M150,642.5 L150,647.5 M153,642.5 L153,647.5 M156,642.5 L156,647.5 M159,642.5 L159,647.5 M162,642.5 L162,647.5 M165,642.5 L165,647.5 M168,642.5 L168,647.5 M171,642.5 L171,647.5" stroke="#ccc" stroke-width="0.7"/></g><ellipse cx="138" cy="645" rx="3.2" ry="4" transform="rotate(-28 138 645)"/><circle cx="138" cy="645" r="1.3" fill="none" stroke-width="0.7"/></g>
<g stroke="#2a2a2a" stroke-width="0.9" fill="#fff" stroke-linejoin="round" ><ellipse cx="193.2" cy="638" rx="3.6" ry="5.6" transform="rotate(-15 193.2 638)"/><path d="M196,635.5 L199.5,634.5 L200,637 L196.5,638" /></g>
<g stroke="#2a2a2a" stroke-width="0.9" fill="#fff" stroke-linejoin="round" ><path d="M239.6,622.6 L241.5,625 L220.5,636 L256,652.5 L254.5,655 L217.5,636.5 L217.5,634.5 Z"/><path d="M219.5,634.8 L240.5,623.8 M219.5,634.8 L255.5,653.5" stroke-width="0.6"/></g>
<g stroke="#2a2a2a" stroke-width="0.9" fill="#fff" stroke-linejoin="round" ><path d="M276.2,629.5 Q287,622 295.8,637.6" fill="none"/><path d="M264.9,635.7 L274.3,630.1 L299.6,640.4 L289.3,647.9 Z"/><path d="M264.9,635.7 L264.9,638.5 L289.3,650.5 L299.6,643 L299.6,640.4"/><path d="M289.3,647.9 L289.3,650.5"/><circle cx="273" cy="634.5" r="1" fill="#333"/><circle cx="291" cy="641.5" r="1" fill="#333"/></g>
<g stroke="#2a2a2a" stroke-width="0.9" fill="#fff" stroke-linejoin="round" ><path d="M317.9,630.9 L317.3,645.8" stroke-width="1.4"/><path d="M316.3,631 L319.5,630.7" stroke-width="1.2"/></g>
<g stroke="#2a2a2a" stroke-width="0.9" fill="#fff" stroke-linejoin="round" ><g transform="rotate(-27 343.8 641.9)"><ellipse cx="343.8" cy="641.9" rx="3" ry="3.8"/><path d="M342,640.5 L345.6,643.3 M345.6,640.5 L342,643.3" stroke-width="0.6"/><path d="M346.8,639.6 L358,640.6 L360.5,641.9 L358,643.2 L346.8,644.2 Z" fill="#333"/></g></g>
<g stroke="#2a2a2a" stroke-width="0.9" fill="#fff" stroke-linejoin="round" ><g transform="rotate(-27 371.2 646.8)"><ellipse cx="371.2" cy="646.8" rx="3" ry="3.8"/><path d="M369.4,645.4 L373,648.2 M373,645.4 L369.4,648.2" stroke-width="0.6"/><path d="M374.2,644.6 L396,645.5 L399.5,646.8 L396,648.1 L374.2,649 Z" fill="#333"/></g></g>
<g stroke="#2a2a2a" stroke-width="0.9" fill="#fff" stroke-linejoin="round" ><g transform="rotate(-27 404.4 646.8)"><ellipse cx="404.4" cy="646.8" rx="3.3" ry="4.2" fill="#444"/><path d="M407,643.2 L431,643.2 L431,650.4 L407,650.4 Z"/><path d="M410,643.2 L410,650.4"/><path d="M431,644 L440,644.3 L440,649.3 L431,649.6 Z" fill="#444"/></g></g>
<g stroke="#2a2a2a" stroke-width="0.9" fill="#fff" stroke-linejoin="round" ><path d="M453.5,634 L453.5,645 Q459,650 464.5,645 L464.5,634" fill="#ddd"/><path d="M455,638 L463,638 L463,645 L455,645 Z" fill="#444"/><ellipse cx="459" cy="633.7" rx="5.5" ry="3.8"/><path d="M456,633.7 L462,633.7 M459,631.5 L459,636" stroke-width="1.1"/></g>
<g stroke="#2a2a2a" stroke-width="0.9" fill="#fff" stroke-linejoin="round" ><ellipse cx="510.9" cy="635.5" rx="10" ry="5.2"/><ellipse cx="510.9" cy="635" rx="9" ry="4.2" fill="none" stroke-width="0.5"/></g>
<g stroke="#2a2a2a" stroke-width="0.9" fill="#fff" stroke-linejoin="round" ><g transform="rotate(-27 548.2 637.2)"><rect x="548.2" y="634.7" width="17.5" height="5" rx="2.4"/><path d="M551,634.7 L551,639.7 M554,634.7 L554,639.7 M557,634.7 L557,639.7 M560,634.7 L560,639.7" stroke-width="0.5"/></g></g>
<g stroke="#2a2a2a" stroke-width="0.9" fill="#fff" stroke-linejoin="round" ><g transform="rotate(-27 579.1 636.5)"><rect x="578" y="634" width="7" height="5" rx="2"/><rect x="585" y="633" width="7.5" height="7" rx="2.5"/></g></g>
<g stroke="#2a2a2a" stroke-width="0.9" fill="#fff" stroke-linejoin="round" ><path d="M612.9,618.4 L684.7,640.7 L687.5,641.5 L687.5,650 L683,649 L612.9,625.8 Z"/><path d="M612.9,618.8 L684.7,641.1" stroke-width="2"/><path d="M614,622.6 L682,644.6" stroke-width="0.8"/><path d="M683,643 L683,649 M685,646 L687,646" stroke-width="0.8"/><path d="M610.8,631.9 L684.7,654.3 L684.7,661 L610.8,638.2 Z"/><path d="M610.8,632.3 L684.7,654.7" stroke-width="1.6"/><path d="M612.5,635.2 L683,657.2" stroke="#444" stroke-width="2.6" stroke-dasharray="1.2,0.9"/><circle cx="618" cy="621.5" r="0.9" fill="#333"/><circle cx="625" cy="623.8" r="0.9" fill="#333"/><circle cx="629" cy="625" r="0.9" fill="#333"/><circle cx="636" cy="627" r="0.9" fill="#333"/><circle cx="657" cy="633.5" r="0.9" fill="#333"/></g>
</svg>
</body></html>
